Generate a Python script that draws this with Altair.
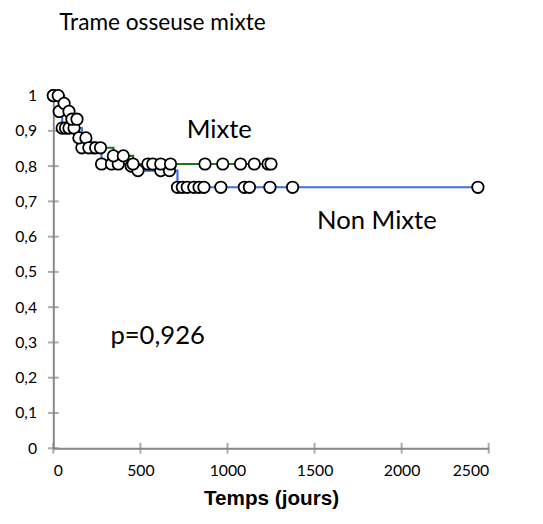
import altair as alt
import pandas as pd

mixte_t = [0, 28, 62, 90, 107, 136, 147, 187, 204, 243, 271, 345, 402, 458, 543, 571, 617, 673, 871, 973, 1075, 1154, 1233, 1250]
mixte_s = [1.0, 1.0, 0.978, 0.955, 0.933, 0.933, 0.88, 0.88, 0.852, 0.852, 0.852, 0.829, 0.829, 0.806, 0.806, 0.806, 0.806, 0.806,
           0.806, 0.806, 0.806, 0.806, 0.806, 0.806]

non_t = [0, 34, 51, 70, 90, 119, 164, 230, 277, 334, 373, 447, 486, 617, 667,
         713, 741, 769, 807, 837, 865, 962, 1097, 1126, 1244, 1374, 2438]
non_s = [1.0, 0.955, 0.908, 0.908, 0.908, 0.908, 0.852, 0.852, 0.806, 0.806, 0.806, 0.8, 0.787, 0.787, 0.787,
         0.74, 0.74, 0.74, 0.74, 0.74, 0.74, 0.74, 0.74, 0.74, 0.74, 0.74, 0.74]

label_text = ["Mixte", "Non Mixte", "p=0,926"]
label_x = [953, 1858, 599]
label_y = [0.903, 0.644, 0.317]

x_ticks = [0, 500, 1000, 1500, 2000, 2500]
y_ticks = [0, 0.1, 0.2, 0.3, 0.4, 0.5, 0.6, 0.7, 0.8, 0.9, 1.0]

W, H = 442, 358
GRAY = "#878787"

df = pd.concat([
    pd.DataFrame({"t": non_t, "s": non_s, "g": "Non Mixte"}),
    pd.DataFrame({"t": mixte_t, "s": mixte_s, "g": "Mixte"}),
])
labels = pd.DataFrame({"text": label_text, "x": label_x, "y": label_y})

xs = alt.Scale(domain=[0, 2500], nice=False)
ys = alt.Scale(domain=[0, 1], nice=False)

x_axis = alt.Axis(values=x_ticks, format="d", title="Temps (jours)",
                  titleFont="Liberation Sans", titleFontWeight="bold", titleFontSize=21, titleColor="black",
                  titlePadding=9, labelFont="Lato", labelFontSize=16, labelColor="black", labelPadding=15,
                  labelOverlap=False, domainColor=GRAY, domainWidth=2, ticks=False, grid=False)
y_axis = alt.Axis(values=y_ticks, title=None,
                  labelExpr="replace(format(datum.value, '~g'), '.', ',')",
                  labelFont="Lato", labelFontSize=16, labelColor="black", labelPadding=17,
                  labelOverlap=False, domainColor=GRAY, domainWidth=2, ticks=False, grid=False)

color = alt.Color("g:N", scale=alt.Scale(domain=["Non Mixte", "Mixte"], range=["#3D6FE8", "#177A17"]), legend=None)

lines = alt.Chart(df).mark_line(interpolate="step-after", strokeWidth=2.2).encode(
    x=alt.X("t:Q", scale=xs, axis=x_axis), y=alt.Y("s:Q", scale=ys, axis=y_axis), color=color, detail="g:N")

xtick_df = pd.DataFrame({"v": x_ticks})
ytick_df = pd.DataFrame({"v": y_ticks})
xt = alt.Chart(xtick_df).mark_tick(orient="vertical", size=11, thickness=2, color=GRAY).encode(
    x=alt.X("v:Q", scale=xs, axis=x_axis), y=alt.value(H))
yt = alt.Chart(ytick_df).mark_tick(orient="horizontal", size=11, thickness=2, color=GRAY).encode(
    y=alt.Y("v:Q", scale=ys, axis=y_axis), x=alt.value(0))

points = alt.Chart(df).mark_point(shape="circle", filled=True, fill="white", stroke="black",
                                  strokeWidth=1.8, size=135, opacity=1, clip=False).encode(
    x=alt.X("t:Q", scale=xs, axis=x_axis), y=alt.Y("s:Q", scale=ys, axis=y_axis))
texts = alt.Chart(labels).mark_text(font="Lato", fontSize=26, color="black", baseline="middle").encode(
    x=alt.X("x:Q", scale=xs, axis=x_axis), y=alt.Y("y:Q", scale=ys, axis=y_axis), text="text:N")
title = alt.Chart(pd.DataFrame({"t": ["Trame osseuse mixte"]})).mark_text(
    font="Lato", fontSize=23, color="black", align="left", baseline="alphabetic").encode(
    x=alt.value(6), y=alt.value(-67), text="t:N")

chart = alt.layer(lines, xt, yt, points, texts, title).properties(
    width=W, height=H,
    autosize=alt.AutoSizeParams(type="none"),
    padding={"left": 46, "top": 85, "right": 47, "bottom": 73},
).configure_view(stroke=None)

chart.save("out.html", embed_options={"renderer": "svg", "actions": False})
